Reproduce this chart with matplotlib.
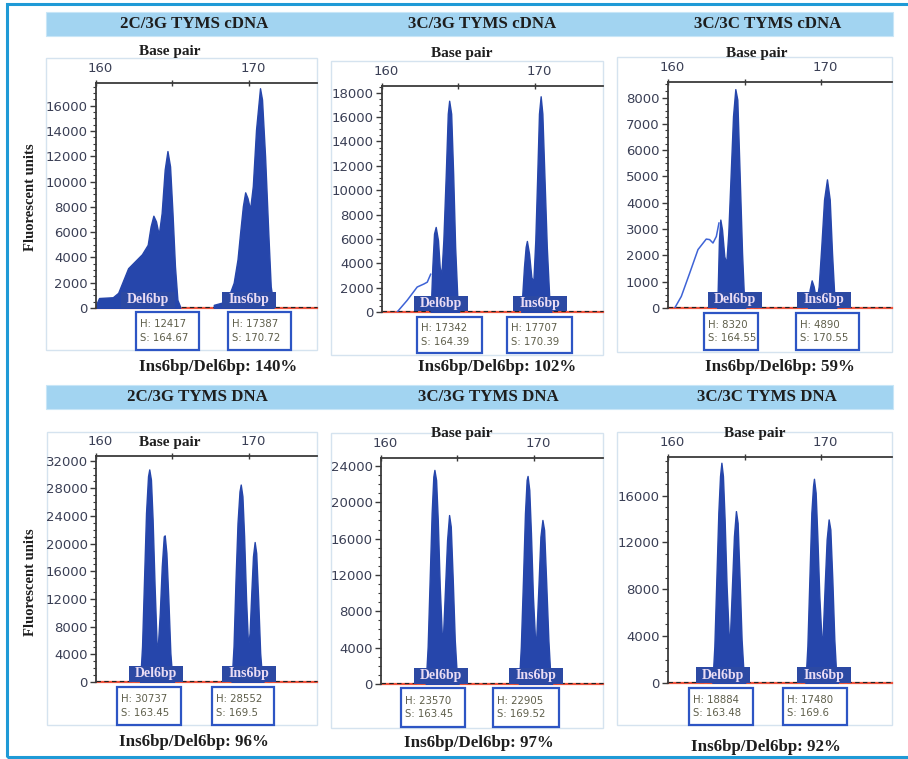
import matplotlib.pyplot as plt
from matplotlib.patches import Rectangle
from matplotlib.ticker import MultipleLocator, AutoMinorLocator
from matplotlib.transforms import ScaledTranslation

W, H = 908, 759

titles = ["2C/3G TYMS cDNA", "3C/3G TYMS cDNA", "3C/3C TYMS cDNA",
          "2C/3G TYMS DNA", "3C/3G TYMS DNA", "3C/3C TYMS DNA"]
del_h = [12417, 17342, 8320, 30737, 23570, 18884]
del_s = ["164.67", "164.39", "164.55", "163.45", "163.45", "163.48"]
ins_h = [17387, 17707, 4890, 28552, 22905, 17480]
ins_s = ["170.72", "170.39", "170.55", "169.5", "169.52", "169.6"]
ratios = [140, 102, 59, 96, 97, 92]
y_step = [2000, 2000, 1000, 4000, 4000, 4000]

# traces: (base pair, fluorescent units)
del_curves = [
    [(160.0, 250), (160.2, 790), (161.1, 850), (161.45, 1200), (161.8, 2250), (162.1, 3150),
     (162.55, 3700), (163.0, 4250), (163.38, 5000), (163.57, 6450), (163.75, 7300), (163.92, 6850),
     (164.1, 5800), (164.29, 7500), (164.49, 10950), (164.67, 12417), (164.84, 11200), (165.0, 7500),
     (165.16, 3300), (165.32, 650), (165.5, 100)],
    [(163.18, 0), (163.29, 3700), (163.4, 6430), (163.51, 6980), (163.66, 5880), (163.77, 3700),
     (163.88, 3000), (164.01, 5880), (164.17, 11350), (164.3, 16280), (164.39, 17342), (164.52, 16280),
     (164.65, 11350), (164.78, 5340), (164.93, 960), (165.04, 0)],
    [(163.22, 0), (163.33, 2600), (163.42, 3360), (163.53, 2980), (163.68, 1960), (163.81, 1710),
     (163.94, 2850), (164.1, 5130), (164.25, 7290), (164.4, 8320), (164.53, 7920), (164.68, 5130),
     (164.84, 2090), (164.97, 320), (165.05, 0)],
    [(162.88, 0), (163.01, 5160), (163.14, 14800), (163.27, 24440), (163.4, 29740), (163.48, 30737),
     (163.59, 29260), (163.7, 23470), (163.83, 13830), (163.96, 5640), (164.04, 5160), (164.17, 9980),
     (164.3, 16730), (164.43, 21060), (164.49, 21200), (164.6, 18650), (164.73, 11910), (164.86, 4190),
     (164.99, 340), (165.1, 0)],
    [(162.92, 0), (163.05, 4110), (163.18, 11450), (163.31, 18790), (163.42, 22830), (163.49, 23570),
     (163.6, 22460), (163.71, 18060), (163.84, 10720), (163.97, 5580), (164.06, 5580), (164.19, 10720),
     (164.32, 15850), (164.45, 18600), (164.56, 17320), (164.69, 11450), (164.82, 4840), (164.96, 810),
     (165.07, 0)],
    [(162.9, 0), (163.03, 3140), (163.16, 8840), (163.29, 14540), (163.4, 17670), (163.49, 18810),
     (163.59, 17670), (163.7, 13970), (163.83, 8270), (163.97, 3990), (164.05, 3990), (164.18, 8270),
     (164.31, 12540), (164.44, 14680), (164.55, 13680), (164.68, 8840), (164.81, 3710), (164.95, 570),
     (165.05, 0)],
]
ins_curves = [
    [(167.7, 250), (168.55, 530), (169.0, 2000), (169.25, 3850), (169.42, 5950), (169.6, 8050),
     (169.75, 9150), (169.9, 8700), (170.07, 7800), (170.25, 9650), (170.46, 14100), (170.72, 17387),
     (170.85, 16500), (171.05, 12000), (171.26, 5950), (171.42, 1700), (171.6, 250)],
    [(169.1, 0), (169.28, 3700), (169.39, 5340), (169.47, 5830), (169.61, 4790), (169.76, 2870),
     (169.89, 2460), (170.02, 5880), (170.15, 11350), (170.26, 16280), (170.37, 17707), (170.48, 16280),
     (170.61, 11350), (170.77, 5340), (170.94, 960), (171.07, 0)],
    [(169.15, 0), (169.26, 700), (169.39, 1050), (169.52, 820), (169.69, 250), (169.85, 820),
     (170.02, 2340), (170.2, 4120), (170.39, 4890), (170.57, 4120), (170.72, 2090), (170.87, 440),
     (171.0, 0)],
    [(168.86, 0), (168.99, 5160), (169.12, 14800), (169.25, 23000), (169.38, 27570), (169.46, 28552),
     (169.57, 26850), (169.68, 21060), (169.81, 11910), (169.94, 5160), (170.04, 7090), (170.15, 12870),
     (170.26, 18170), (170.37, 20240), (170.47, 18650), (170.6, 11910), (170.73, 4190), (170.86, 340),
     (170.95, 0)],
    [(169.01, 0), (169.14, 4110), (169.28, 11450), (169.41, 18790), (169.52, 22460), (169.58, 22905),
     (169.69, 21360), (169.8, 16590), (169.93, 9620), (170.07, 4840), (170.15, 5210), (170.29, 10720),
     (170.42, 16220), (170.55, 18060), (170.66, 16960), (170.79, 11450), (170.94, 4840), (171.07, 810),
     (171.18, 0)],
    [(168.98, 0), (169.11, 3140), (169.24, 8840), (169.37, 14540), (169.48, 16820), (169.54, 17440),
     (169.65, 16250), (169.76, 12540), (169.89, 7410), (170.02, 3990), (170.11, 3990), (170.24, 8270),
     (170.37, 12260), (170.5, 13970), (170.61, 13110), (170.74, 8840), (170.87, 3710), (171.0, 570),
     (171.11, 0)],
]
# unfilled shoulder trace in front of the Del peak
shoulders = [
    None,
    [(160.99, 0), (161.64, 950), (162.3, 2050), (162.74, 2300), (162.96, 2450), (163.18, 3100)],
    [(160.44, 0), (160.87, 440), (161.42, 1330), (161.96, 2220), (162.5, 2620), (162.72, 2600),
     (162.94, 2470), (163.16, 2720), (163.33, 3230)],
    None, None, None,
]

# layout in pixels (x from left, y from top)
layout = [
    dict(ax=(96, 83, 308, 317), ytop=17800, frame=(46, 58, 317, 350), title=194, bp=(170, 52),
         ratio=(218, 367), lab=(163.43, 170.03), hs=((136, 63), (228, 63)), hs_y=(312, 350)),
    dict(ax=(382, 86, 312, 603), ytop=18550, frame=(331, 61, 603, 355), title=482, bp=(462, 54),
         ratio=(497, 367), lab=(163.86, 170.3), hs=((417, 65), (507, 65)), hs_y=(317, 353)),
    dict(ax=(668, 82, 308, 892), ytop=8590, frame=(617, 57, 892, 352), title=768, bp=(757, 54),
         ratio=(780, 367), lab=(164.35, 170.2), hs=((704, 54), (796, 63)), hs_y=(313, 350)),
    dict(ax=(96, 456, 682, 317), ytop=32680, frame=(47, 432, 317, 725), title=197, bp=(170, 442),
         ratio=(194, 742), lab=(163.9, 170.0), hs=((117, 64), (212, 62)), hs_y=(687, 725)),
    dict(ax=(381, 458, 684, 603), ytop=24880, frame=(331, 433, 603, 728), title=488, bp=(462, 434),
         ratio=(479, 743), lab=(163.9, 170.1), hs=((401, 64), (493, 66)), hs_y=(688, 727)),
    dict(ax=(668, 457, 683, 892), ytop=19300, frame=(617, 432, 892, 725), title=767, bp=(755, 433),
         ratio=(766, 747), lab=(163.6, 170.2), hs=((689, 64), (783, 64)), hs_y=(688, 725)),
]

BLUE = '#2646ab'
SERIF = 'Liberation Serif'
TICKC = '#3a3f55'
PX_PER_BP = 15.3


def fx(x):
    return x / W


def fy(y):
    return 1 - y / H


def frect(x0, y0, x1, y1, **kw):
    r = Rectangle((fx(x0), fy(y1)), (x1 - x0) / W, (y1 - y0) / H,
                  transform=fig.transFigure, **kw)
    fig.add_artist(r)
    return r


fig = plt.figure(figsize=(W / 100, H / 100), dpi=100)
fig.patch.set_facecolor('white')

# outer border
frect(7, 4, 915, 757, fill=False, edgecolor='#1f9ad6', lw=2.2, zorder=0)
# header bands
frect(46, 12, 893, 36, facecolor='#a2d4f1', edgecolor='#c8e6f7', lw=0.8, zorder=0)
frect(46, 385, 893, 409, facecolor='#a2d4f1', edgecolor='#c8e6f7', lw=0.8, zorder=0)

for i in range(6):
    L = layout[i]
    left, top, zero, right = L['ax']
    row_y = 24 if i < 3 else 397

    frect(*L['frame'], fill=False, edgecolor='#d5e3ef', lw=1.0, zorder=0)
    fig.text(fx(L['title']), fy(row_y), titles[i], ha='center', va='center',
             family=SERIF, weight='bold', fontsize=12.2, color='#1e1e1e')

    ax = fig.add_axes([fx(left), fy(zero), (right - left) / W, (zero - top) / H])
    ax.patch.set_alpha(0)
    xmax = 160 + (right - left) / PX_PER_BP
    ax.set_xlim(160, xmax)
    ax.set_ylim(0, L['ytop'])

    # baseline
    ax.axhline(0, color='#f0553f', lw=1.6, clip_on=False, zorder=1)
    ax.plot([160, xmax], [L['ytop'] * 0.006] * 2, color='#222222', lw=0.8,
            ls=(0, (4, 3)), clip_on=False, zorder=1)

    for curve in (del_curves[i], ins_curves[i]):
        xs = [p[0] for p in curve]
        ys = [p[1] for p in curve]
        ax.fill_between(xs, ys, 0, color=BLUE, lw=1.0, zorder=2)
    if shoulders[i] is not None:
        xs = [p[0] for p in shoulders[i]]
        ys = [p[1] for p in shoulders[i]]
        ax.plot(xs, ys, color='#3e63d6', lw=1.1, zorder=2)

    for s in ('bottom', 'right'):
        ax.spines[s].set_visible(False)
    for s in ('top', 'left'):
        ax.spines[s].set_color('#3a3a3a')
        ax.spines[s].set_linewidth(1.3)

    ax.xaxis.tick_top()
    ax.set_xticks([160, 165, 170])
    ax.set_xticklabels(['160', '', '170'])
    ax.tick_params(axis='x', direction='inout', length=5, width=1, labelsize=9.5,
                   pad=3, labelcolor=TICKC, color='#3a3a3a')
    off = ScaledTranslation(4 / 100, 0, fig.dpi_scale_trans)
    for lab in ax.get_xticklabels():
        lab.set_transform(lab.get_transform() + off)

    ax.yaxis.set_major_locator(MultipleLocator(y_step[i]))
    ax.yaxis.set_minor_locator(AutoMinorLocator(4))
    ax.tick_params(axis='y', which='major', direction='out', length=4, width=1,
                   labelsize=9.5, pad=2, labelcolor=TICKC, color='#3a3a3a')
    ax.tick_params(axis='y', which='minor', direction='out', length=2, width=0.8,
                   color='#3a3a3a')

    fig.text(fx(L['bp'][0]), fy(L['bp'][1]), 'Base pair', ha='center', va='center',
             family=SERIF, weight='bold', fontsize=11, color='#1e1e1e')

    # peak name boxes sitting on the baseline
    for name, cx in zip(('Del6bp', 'Ins6bp'), L['lab']):
        px = left + (cx - 160) * PX_PER_BP
        frect(px - 27, zero - 16, px + 27, zero - 0.5, facecolor='#2c49a3',
              edgecolor='none', zorder=5)
        fig.text(fx(px), fy(zero - 8), name, ha='center', va='center', family=SERIF,
                 weight='bold', fontsize=10, color='#eadcf4', zorder=6)

    # height / size boxes
    y0, y1 = L['hs_y']
    for (bx, bw), hv, sv in zip(L['hs'], (del_h[i], ins_h[i]), (del_s[i], ins_s[i])):
        frect(bx, y0, bx + bw, y1, facecolor='white', edgecolor='#2d55c4', lw=1.6, zorder=5)
        fig.text(fx(bx + 4), fy((y0 + y1) / 2), f"H: {hv}\nS: {sv}", ha='left', va='center',
                 fontsize=7.3, color='#5e5e4a', linespacing=1.45, zorder=6)

    fig.text(fx(L['ratio'][0]), fy(L['ratio'][1]), f"Ins6bp/Del6bp: {ratios[i]}%",
             ha='center', va='center', family=SERIF, weight='bold', fontsize=12.2,
             color='#1e1e1e')

for yc in (197, 582):
    fig.text(fx(30), fy(yc), 'Fluorescent units', rotation=90, ha='center', va='center',
             family=SERIF, weight='bold', fontsize=10.5, color='#1e1e1e')

fig.savefig('out.png', dpi=100)
